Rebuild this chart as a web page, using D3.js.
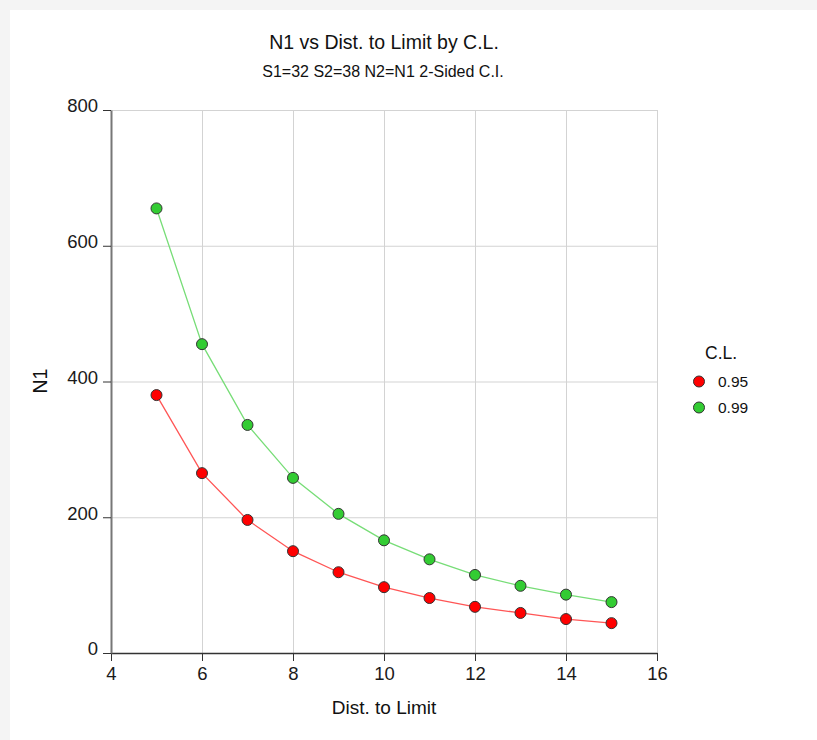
<!DOCTYPE html>
<html>
<head>
<meta charset="utf-8">
<script src="https://cdn.jsdelivr.net/npm/d3@7"></script>
<style>
  body { margin: 0; background: #f4f4f4; }
  svg { display: block; font-family: Arial, "Liberation Sans", sans-serif; }
</style>
</head>
<body>
<svg id="chart" width="817" height="740"></svg>
<script>
// data
const distances = [5, 6, 7, 8, 9, 10, 11, 12, 13, 14, 15];
const n1At95 = [380, 265, 196, 150, 119, 97, 81, 68, 59, 50, 44];
const n1At99 = [655, 455, 336, 258, 205, 166, 138, 115, 99, 86, 75];
const levels = ['0.95', '0.99'];
const levelColors = { '0.95': '#ff0000', '0.99': '#33cc33' };
const lineColors = { '0.95': '#ff5555', '0.99': '#77dd77' };
const xTicks = [4, 6, 8, 10, 12, 14, 16];
const yTicks = [0, 200, 400, 600, 800];

const series = [
    { level: '0.95', values: n1At95 },
    { level: '0.99', values: n1At99 }
];

const svg = d3.select('#chart');
const plot = { left: 111, right: 657, top: 110, bottom: 653 };

svg.append('rect')
    .attr('x', 10).attr('y', 10)
    .attr('width', 807).attr('height', 730)
    .attr('fill', '#ffffff');

const x = d3.scaleLinear().domain([4, 16]).range([plot.left, plot.right]);
const y = d3.scaleLinear().domain([0, 800]).range([plot.bottom, plot.top]);

// grid
const grid = svg.append('g').attr('stroke', '#d3d3d3').attr('stroke-width', 1);
xTicks.slice(1).forEach(t => {
    grid.append('line')
        .attr('x1', x(t) + 0.5).attr('x2', x(t) + 0.5)
        .attr('y1', plot.top).attr('y2', plot.bottom);
});
yTicks.slice(1).forEach(t => {
    grid.append('line')
        .attr('x1', plot.left).attr('x2', plot.right)
        .attr('y1', y(t) + 0.5).attr('y2', y(t) + 0.5);
});

// axes
const xAxis = svg.append('g')
    .attr('transform', 'translate(0,' + plot.bottom + ')')
    .call(d3.axisBottom(x).tickValues(xTicks).tickSize(8).tickSizeOuter(0).tickPadding(3));
const yAxis = svg.append('g')
    .attr('transform', 'translate(' + plot.left + ',0)')
    .call(d3.axisLeft(y).tickValues(yTicks).tickSize(8).tickSizeOuter(0).tickPadding(5));

xAxis.select('.domain').attr('stroke', '#333').attr('stroke-width', 1.5);
yAxis.select('.domain').attr('stroke', '#777').attr('stroke-width', 2);
[xAxis, yAxis].forEach(a => {
    a.selectAll('.tick line').attr('stroke', '#333');
    a.selectAll('.tick text')
        .attr('font-size', 18.5)
        .attr('fill', '#1a1a1a')
        .attr('font-family', 'Arial, "Liberation Sans", sans-serif');
});
xAxis.selectAll('.tick text').attr('dy', '0.85em');
yAxis.selectAll('.tick text').attr('dy', '0.1em');

// lines and points
const line = d3.line()
    .x((d, i) => x(distances[i]))
    .y(d => y(d));

series.forEach(s => {
    svg.append('path')
        .attr('d', line(s.values))
        .attr('fill', 'none')
        .attr('stroke', lineColors[s.level])
        .attr('stroke-width', 1.3);
});
series.forEach(s => {
    svg.append('g').selectAll('circle')
        .data(s.values)
        .enter()
        .append('circle')
            .attr('cx', (d, i) => x(distances[i]))
            .attr('cy', d => y(d))
            .attr('r', 5.5)
            .attr('fill', levelColors[s.level])
            .attr('stroke', '#333')
            .attr('stroke-width', 1);
});

// titles
svg.append('text')
    .attr('x', 384).attr('y', 49)
    .attr('text-anchor', 'middle')
    .attr('font-size', 19.5)
    .attr('fill', '#111')
    .text('N1 vs Dist. to Limit by C.L.');
svg.append('text')
    .attr('x', 383).attr('y', 77)
    .attr('text-anchor', 'middle')
    .attr('font-size', 16)
    .attr('fill', '#111')
    .text('S1=32 S2=38 N2=N1 2-Sided C.I.');
svg.append('text')
    .attr('x', 384).attr('y', 714)
    .attr('text-anchor', 'middle')
    .attr('font-size', 19)
    .attr('fill', '#111')
    .text('Dist. to Limit');
svg.append('text')
    .attr('transform', 'translate(47,381) rotate(-90)')
    .attr('text-anchor', 'middle')
    .attr('font-size', 19.5)
    .attr('fill', '#111')
    .text('N1');

// legend
const legend = svg.append('g').attr('transform', 'translate(693,0)');
legend.append('text')
    .attr('x', 12).attr('y', 359)
    .attr('font-size', 17.5)
    .attr('fill', '#111')
    .text('C.L.');
levels.forEach((lv, i) => {
    const ly = 381.5 + i * 26;
    legend.append('circle')
        .attr('cx', 6).attr('cy', ly)
        .attr('r', 5.5)
        .attr('fill', levelColors[lv])
        .attr('stroke', '#333');
    legend.append('text')
        .attr('x', 25).attr('y', ly + 5.5)
        .attr('font-size', 15.5)
        .attr('fill', '#111')
        .text(lv);
});
</script>
</body>
</html>
